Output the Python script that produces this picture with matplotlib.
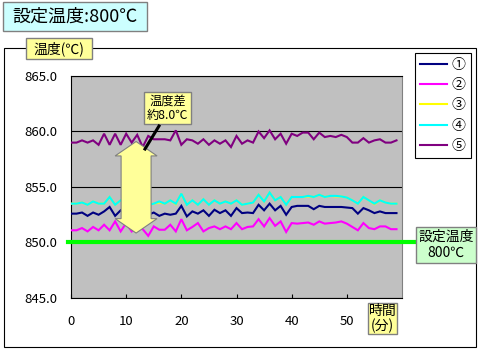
import numpy as np
import matplotlib
matplotlib.use("Agg")
import matplotlib.pyplot as plt
from matplotlib.patches import Rectangle, Polygon
from matplotlib.lines import Line2D

plt.rcParams['font.family'] = ['Noto Sans CJK JP', 'DejaVu Sans']

# data (minutes, temperatures)
minutes = list(range(60))
series_names = ['①', '②', '③', '④', '⑤']
series_colors = ['#000080', '#ff00ff', '#ffff00', '#00ffff', '#800080']

temp_1 = [852.6, 852.6, 852.7, 852.4, 852.7, 852.5, 852.8, 853.2, 852.4, 852.9,
          852.5, 852.9, 852.4, 852.8, 852.5, 852.7, 852.4, 852.6, 852.5, 852.6,
          853.3, 852.35, 852.8, 852.6, 852.9, 852.4, 852.95, 852.65, 852.9, 852.4,
          853.1, 852.65, 852.7, 852.65, 853.4, 852.9, 853.5, 852.9, 853.3, 852.5,
          853.2, 853.3, 853.3, 853.3, 853.0, 853.3, 853.2, 853.2, 853.2, 853.2,
          853.15, 853.1, 852.6, 853.1, 852.9, 852.65, 852.8, 852.65, 852.65, 852.65]
temp_2 = [851.1, 851.1, 851.3, 851.0, 851.4, 851.1, 851.6, 851.1, 851.9, 851.0,
          851.75, 851.0, 851.5, 851.2, 850.6, 851.45, 851.15, 851.15, 851.6, 851.0,
          852.1, 851.1, 851.4, 851.75, 851.0, 851.3, 851.45, 851.2, 851.45, 851.2,
          851.75, 851.2, 851.4, 851.45, 852.1, 851.45, 852.2, 851.5, 851.9, 850.95,
          851.75, 851.7, 851.75, 851.8, 851.6, 851.9, 851.7, 851.75, 851.8, 851.9,
          851.7, 851.4, 851.1, 851.75, 851.3, 851.2, 851.45, 851.45, 851.2, 851.2]
temp_3 = [853.5, 853.5, 853.6, 853.4, 853.7, 853.5, 853.5, 854.1, 853.4, 853.8,
          853.6, 853.9, 853.5, 853.8, 853.4, 853.5, 853.6, 853.5, 853.8, 853.45,
          854.4, 853.4, 853.8, 853.4, 853.9, 853.4, 853.8, 853.5, 853.7, 853.5,
          853.8, 853.4, 853.5, 853.6, 854.3, 853.7, 854.5, 853.8, 854.1, 853.4,
          854.1, 854.1, 854.1, 854.15, 854.1, 854.3, 854.1, 854.2, 854.15, 854.15,
          854.05, 853.8, 853.5, 854.1, 853.8, 853.45, 853.8, 853.6, 853.5, 853.5]
temp_4 = [853.5, 853.5, 853.6, 853.4, 853.7, 853.5, 853.5, 854.1, 853.4, 853.8,
          853.6, 853.9, 853.5, 853.8, 853.4, 853.5, 853.7, 853.5, 853.8, 853.5,
          854.4, 853.4, 853.8, 853.4, 853.9, 853.4, 853.8, 853.5, 853.7, 853.5,
          853.8, 853.4, 853.5, 853.6, 854.3, 853.7, 854.5, 853.8, 854.1, 853.4,
          854.1, 854.1, 854.1, 854.2, 854.1, 854.3, 854.1, 854.2, 854.2, 854.15,
          854.05, 853.8, 853.5, 854.1, 853.8, 853.5, 853.8, 853.6, 853.5, 853.5]
temp_5 = [859.0, 859.0, 859.2, 859.0, 859.2, 858.8, 859.8, 858.8, 859.8, 858.8,
          859.8, 859.0, 859.7, 858.6, 859.6, 859.3, 859.3, 859.3, 859.2, 860.1,
          858.8, 859.3, 859.2, 858.9, 859.3, 858.8, 859.2, 858.9, 859.2, 858.6,
          859.6, 858.9, 859.2, 859.0, 860.0, 859.4, 860.1, 859.3, 859.8, 858.9,
          859.8, 859.6, 859.9, 859.9, 859.3, 859.9, 859.5, 859.6, 859.5, 859.7,
          859.5, 859.0, 859.0, 859.4, 859.0, 859.2, 859.3, 859.0, 859.0, 859.2]
all_temps = [temp_1, temp_2, temp_3, temp_4, temp_5]

set_temp = 850.0
diff_top = 859.1
diff_bottom = 850.85
y_ticks = [845.0, 850.0, 855.0, 860.0, 865.0]
x_ticks = [0, 10, 20, 30, 40, 50]

W, H = 479, 354
fig = plt.figure(figsize=(W / 100, H / 100), dpi=100)


def fx(px):
    return px / W


def fy(py):
    return 1 - py / H


def box(x0, y0, x1, y1, face, edge='#808080', lw=1.0):
    fig.patches.append(Rectangle((fx(x0), fy(y1)), fx(x1) - fx(x0), fy(y0) - fy(y1),
                                 transform=fig.transFigure, facecolor=face,
                                 edgecolor=edge, linewidth=lw, zorder=5))


# outer chart border
fig.patches.append(Rectangle((fx(4), fy(347)), fx(476) - fx(4), fy(48) - fy(347),
                             transform=fig.transFigure, facecolor='none',
                             edgecolor='black', linewidth=0.8, zorder=0))

ax = fig.add_axes([fx(71), fy(298), fx(402) - fx(71), fy(76) - fy(298)])
ax.set_zorder(1)
ax.set_facecolor('#c0c0c0')
ax.set_xlim(0, 60)
ax.set_ylim(845, 865)

for temps, name, col in zip(all_temps, series_names, series_colors):
    ax.plot(minutes, temps, color=col, lw=1.5, label=name, zorder=3,
            solid_joinstyle='miter')

ax.set_yticks(y_ticks)
ax.set_yticklabels([f"{v:.1f}" for v in y_ticks], fontsize=9.5)
ax.set_xticks(x_ticks)
ax.set_xticklabels([str(v) for v in x_ticks], fontsize=9.5)
ax.tick_params(axis='x', direction='in', length=3, pad=12, width=0.8)
ax.tick_params(axis='y', length=0, pad=10)
ax.yaxis.grid(True, color='black', lw=0.8)
ax.set_axisbelow(True)
for s in ['left', 'bottom', 'top']:
    ax.spines[s].set_color('black')
    ax.spines[s].set_linewidth(0.8)
ax.spines['right'].set_color('#808080')

# set temperature line, extended to its label
ax.plot([-0.5, 62.6], [set_temp, set_temp], color='#00ff00', lw=3,
        clip_on=False, zorder=4)

# double block arrow for the temperature difference
xc = 11.8
sw, hw, hl = 2.72, 3.8, 1.3
arrow_pts = [(xc, diff_top), (xc + hw, diff_top - hl), (xc + sw, diff_top - hl),
             (xc + sw, diff_bottom + hl), (xc + hw, diff_bottom + hl), (xc, diff_bottom),
             (xc - hw, diff_bottom + hl), (xc - sw, diff_bottom + hl),
             (xc - sw, diff_top - hl), (xc - hw, diff_top - hl)]
ax.add_patch(Polygon(arrow_pts, closed=True, facecolor='#ffff99',
                     edgecolor='#808080', lw=0.8, zorder=6))

# legend
leg = ax.legend(loc='upper left', bbox_to_anchor=(fx(415), fy(53)),
                bbox_transform=fig.transFigure, fontsize=10, frameon=True,
                fancybox=False, edgecolor='black', framealpha=1,
                handlelength=1.95, handletextpad=0.35, borderpad=0.35,
                labelspacing=0.45, borderaxespad=0)
leg.get_frame().set_linewidth(0.8)

# title box
box(3, 2, 147, 31, '#ccffff')
fig.text(fx(75), fy(17), '設定温度:800℃', fontsize=13, ha='center', va='center', zorder=6)

# y-axis label box
box(26, 38, 92, 59, '#ffff99')
fig.text(fx(59), fy(48.5), '温度(℃)', fontsize=10, ha='center', va='center', zorder=6)

# set temperature label
box(416, 227, 476, 263, '#ccffcc')
fig.text(fx(446), fy(245), '設定温度\n800℃', fontsize=10, ha='center', va='center',
         linespacing=1.15, zorder=6)

# x-axis label box
box(368, 303, 397, 334, '#ffff99')
fig.text(fx(382.5), fy(318.5), '時間\n(分)', fontsize=10, ha='center', va='center',
         linespacing=1.1, zorder=6)

# temperature difference label with pointer
box(144, 92, 191, 124, '#ffff99')
fig.text(fx(167.5), fy(108), '温度差\n約8.0℃', fontsize=8.8, ha='center', va='center',
         linespacing=1.15, zorder=6)
fig.lines.append(Line2D([fx(159), fx(145)], [fy(126), fy(149)], transform=fig.transFigure,
                        color='black', lw=2.2, zorder=7))

fig.savefig('out.png', dpi=100)
